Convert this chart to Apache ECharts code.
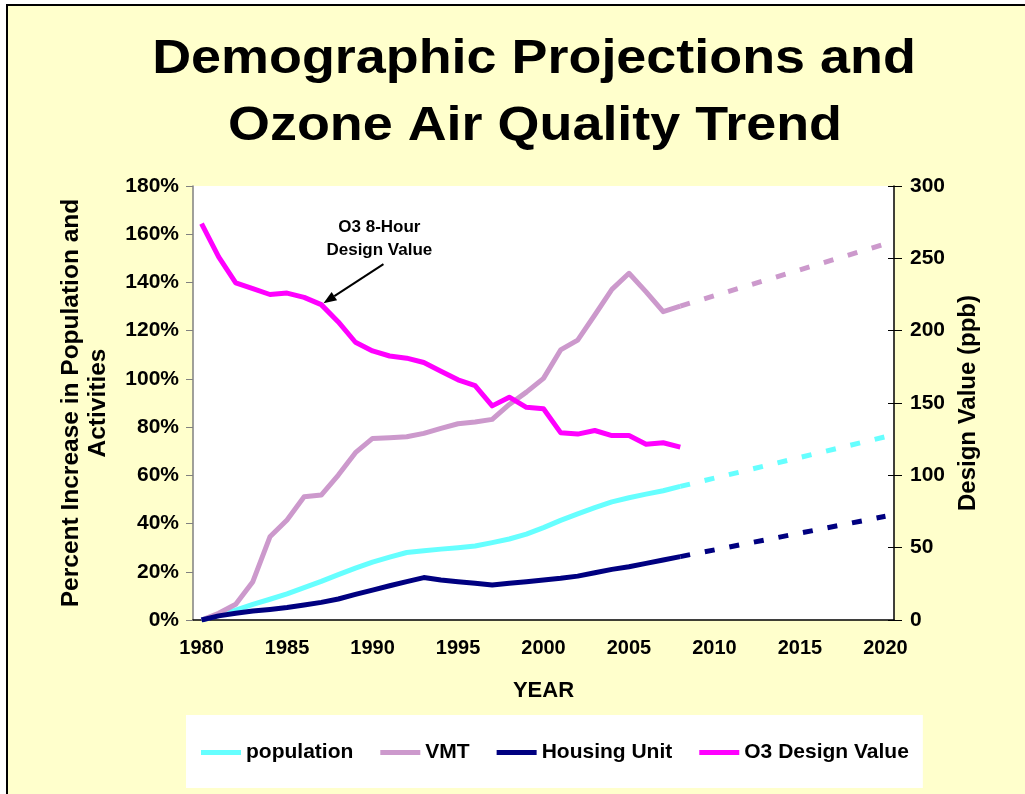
<!DOCTYPE html>
<html>
<head>
<meta charset="utf-8">
<script src="https://cdn.jsdelivr.net/npm/echarts@6/dist/echarts.min.js"></script>
<style>
  html, body { margin: 0; padding: 0; background: #fff; overflow: hidden; }
  #frame { position: absolute; left: 6px; top: 4px; width: 1100px; height: 900px;
           border: 2px solid #000; background: #ffffcc; }
  #main { position: absolute; left: 0; top: 0; width: 1025px; height: 794px; }
</style>
</head>
<body>
<div id="frame"></div>
<div id="main"></div>
<script>
// years on the category axis
var years = [];
for (var y = 1980; y <= 2020; y++) years.push(String(y));

// observed 1980-2008 (percent increase since 1980)
var population = [0, 2.1, 4.1, 6.5, 8.6, 10.8, 13.4, 16.0, 18.8, 21.5, 24.0, 26.1, 28.0, 28.7, 29.4,
  30.0, 30.7, 32.1, 33.6, 35.6, 38.3, 41.3, 44.0, 46.6, 49.0, 50.7, 52.2, 53.6, 55.4];
var vmt = [0, 2.8, 6.5, 15.9, 34.5, 41.5, 51.1, 51.8, 60.1, 69.4, 75.3, 75.6, 76.0, 77.4, 79.5,
  81.4, 82.1, 83.2, 89.4, 94.5, 100.2, 112.0, 116.1, 126.5, 137.1, 143.8, 136.1, 127.9, 130.2];
var housing = [0, 1.7, 2.8, 3.7, 4.4, 5.2, 6.2, 7.3, 8.7, 10.6, 12.4, 14.2, 15.9, 17.6, 16.6,
  15.9, 15.2, 14.5, 15.2, 15.9, 16.6, 17.3, 18.2, 19.6, 21.0, 22.1, 23.5, 24.9, 26.3];
// O3 8-hour design value (ppb)
var o3 = [274, 251, 233, 229, 225, 226, 223, 218, 206, 192, 186, 182.5, 181, 178, 172,
  166, 162, 148, 154, 147, 146, 129.5, 128.5, 131, 127.5, 127.5, 121.5, 122.5, 119.5];

// projections: 2008 -> 2020
var projYears = ['2008', '2020'];
var populationProj = [55.4, 76];
var vmtProj = [130.2, 156];
var housingProj = [26.3, 43];

var leftTicks = [0, 20, 40, 60, 80, 100, 120, 140, 160, 180];
var rightTicks = [0, 50, 100, 150, 200, 250, 300];

var FONT = '"Liberation Sans", Arial, sans-serif';

function fill(arr) {
  var out = years.map(function () { return null; });
  arr.forEach(function (v, i) { out[i] = v; });
  return out;
}
function fillProj(arr) {
  var out = years.map(function () { return null; });
  projYears.forEach(function (yr, i) { out[years.indexOf(yr)] = arr[i]; });
  return out;
}

function lineSeries(name, data, color, axis, dashed) {
  return {
    name: name,
    type: 'line',
    yAxisIndex: axis,
    data: data,
    symbol: 'none',
    connectNulls: !!dashed,
    lineStyle: { color: color, width: 5, type: dashed ? [10, 15] : 'solid', join: 'round', cap: 'butt' },
    itemStyle: { color: color },
    emphasis: { disabled: true },
    silent: true
  };
}

var myChart = echarts.init(document.getElementById('main'));
var option = {
  animation: false,
  backgroundColor: 'transparent',
  textStyle: { fontFamily: FONT },
  grid: { left: 193, right: 131, top: 186, bottom: 174, show: true, backgroundColor: '#fff', borderWidth: 0 },
  legend: {
    left: 186, top: 715,
    data: ['population', 'VMT', 'Housing Unit', 'O3 Design Value'],
    icon: 'rect',
    itemWidth: 40, itemHeight: 5, itemGap: 27,
    backgroundColor: '#fff',
    padding: [27, 14, 25, 15],
    textStyle: { fontFamily: FONT, fontSize: 21, fontWeight: 'bold', color: '#000' },
    selectedMode: false
  },
  xAxis: {
    type: 'category',
    data: years,
    boundaryGap: true,
    name: 'YEAR',
    nameLocation: 'middle',
    nameGap: 60,
    nameTextStyle: { fontFamily: FONT, fontSize: 22, fontWeight: 'bold', color: '#000' },
    axisLine: { lineStyle: { color: '#000', width: 1.5 } },
    axisTick: { interval: 0, length: 6, lineStyle: { color: '#555' } },
    axisLabel: { interval: 4, margin: 18, fontFamily: FONT, fontSize: 20, fontWeight: 'bold', color: '#000' },
    splitLine: { show: false }
  },
  yAxis: [{
    type: 'value',
    min: leftTicks[0], max: leftTicks[leftTicks.length - 1], interval: 20,
    position: 'left',
    name: 'Percent Increase in Population and\nActivities',
    nameLocation: 'middle',
    nameRotate: 90,
    nameGap: 81,
    nameTextStyle: { fontFamily: FONT, fontSize: 24.5, fontWeight: 'bold', color: '#000', lineHeight: 27 },
    axisLine: { show: true, lineStyle: { color: '#808080', width: 1.5 } },
    axisTick: { show: true, length: 7, lineStyle: { color: '#808080' } },
    axisLabel: { margin: 14, formatter: '{value}%', fontFamily: FONT, fontSize: 21, fontWeight: 'bold', color: '#000' },
    splitLine: { show: false }
  }, {
    type: 'value',
    min: rightTicks[0], max: rightTicks[rightTicks.length - 1], interval: 50,
    position: 'right',
    name: 'Design Value (ppb)',
    nameLocation: 'middle',
    nameRotate: 90,
    nameGap: 61,
    nameTextStyle: { fontFamily: FONT, fontSize: 24, fontWeight: 'bold', color: '#000' },
    axisLine: { show: true, lineStyle: { color: '#000', width: 1.5 } },
    axisTick: { show: true, length: 8, lineStyle: { color: '#000' } },
    axisLabel: { margin: 16, fontFamily: FONT, fontSize: 21, fontWeight: 'bold', color: '#000' },
    splitLine: { show: false }
  }, {
    // inner half of the crossing ticks on the right axis
    type: 'value',
    min: rightTicks[0], max: rightTicks[rightTicks.length - 1], interval: 50,
    position: 'right',
    axisLine: { show: false },
    axisTick: { show: true, inside: true, length: 6, lineStyle: { color: '#000' } },
    axisLabel: { show: false },
    splitLine: { show: false }
  }],
  series: [
    lineSeries('population', fill(population), '#66ffff', 0),
    lineSeries('VMT', fill(vmt), '#cc99cc', 0),
    lineSeries('Housing Unit', fill(housing), '#000080', 0),
    lineSeries('O3 Design Value', fill(o3), '#ff00ff', 1),
    lineSeries('population projection', fillProj(populationProj), '#66ffff', 0, true),
    lineSeries('VMT projection', fillProj(vmtProj), '#cc99cc', 0, true),
    lineSeries('Housing Unit projection', fillProj(housingProj), '#000080', 0, true)
  ]
};
myChart.setOption(option);

// annotation placed in data space of the O3 series (year, ppb)
function px(year, v) {
  var i = year - 1980, i0 = Math.floor(i);
  var a = myChart.convertToPixel({ seriesIndex: 3 }, [i0, v]);
  var b = myChart.convertToPixel({ seriesIndex: 3 }, [i0 + 1, v]);
  return [a[0] + (b[0] - a[0]) * (i - i0), a[1]];
}
var tail = px(1990.64, 246), tip = px(1987.13, 219);
var ang = Math.atan2(tip[1] - tail[1], tip[0] - tail[0]);
var hl = 13, hw = 5;
var base = [tip[0] - hl * Math.cos(ang), tip[1] - hl * Math.sin(ang)];
var head = [tip,
  [base[0] + hw * Math.sin(ang), base[1] - hw * Math.cos(ang)],
  [base[0] - hw * Math.sin(ang), base[1] + hw * Math.cos(ang)]];
var t1 = px(1990.4, 271.6), t2 = px(1990.4, 255.2);

myChart.setOption({
  graphic: [
    { type: 'text', x: 534, y: 59, scaleX: 1.1, z: 10,
      style: { text: 'Demographic Projections and', fontFamily: FONT, fontSize: 49, fontWeight: 'bold', fill: '#000', align: 'center', verticalAlign: 'middle' } },
    { type: 'text', x: 535, y: 126, scaleX: 1.1, z: 10,
      style: { text: 'Ozone Air Quality Trend', fontFamily: FONT, fontSize: 49, fontWeight: 'bold', fill: '#000', align: 'center', verticalAlign: 'middle' } },
    { type: 'text', x: t1[0], y: t1[1], z: 10,
      style: { text: 'O3 8-Hour', fontFamily: FONT, fontSize: 17, fontWeight: 'bold', fill: '#000', align: 'center', verticalAlign: 'middle' } },
    { type: 'text', x: t2[0], y: t2[1], z: 10,
      style: { text: 'Design Value', fontFamily: FONT, fontSize: 17, fontWeight: 'bold', fill: '#000', align: 'center', verticalAlign: 'middle' } },
    { type: 'line', z: 10, shape: { x1: tail[0], y1: tail[1], x2: base[0], y2: base[1] },
      style: { stroke: '#000', lineWidth: 2 } },
    { type: 'polygon', z: 10, shape: { points: head }, style: { fill: '#000' } }
  ]
});
</script>
</body>
</html>
